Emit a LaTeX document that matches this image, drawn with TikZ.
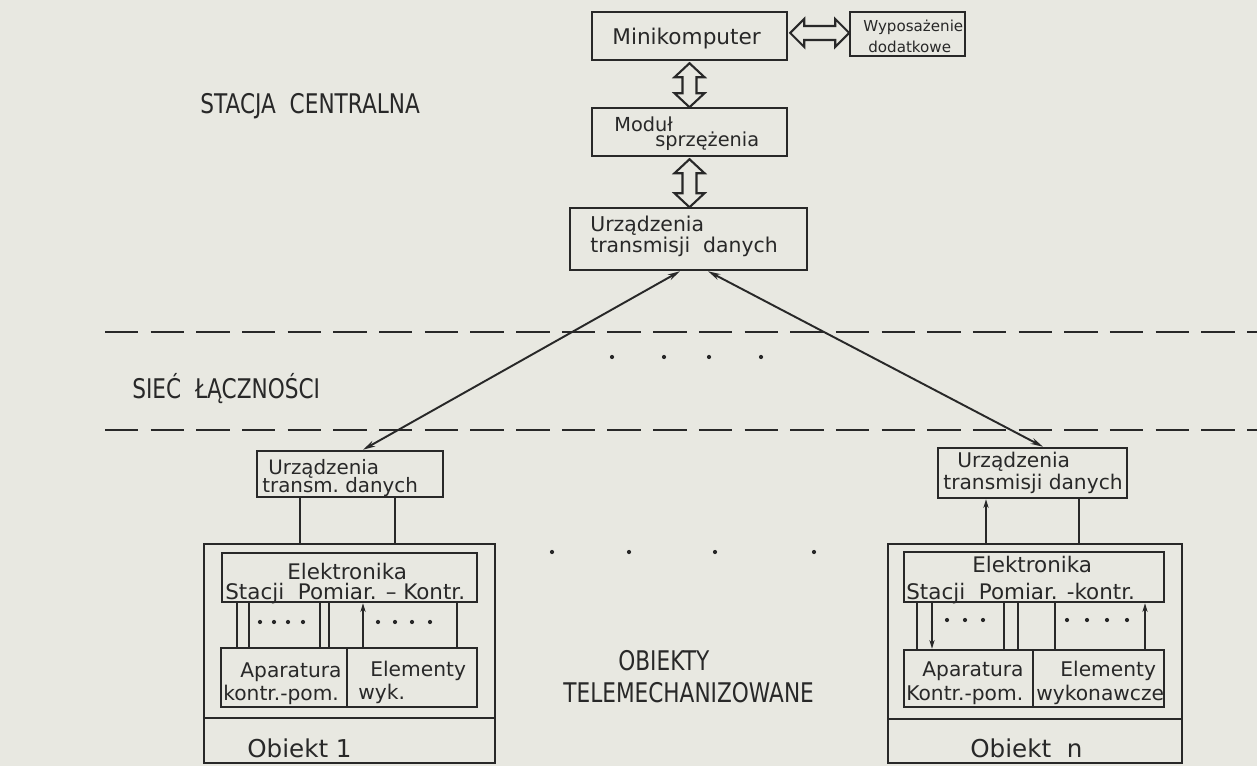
\documentclass[tikz,border=0pt]{standalone}
\usepackage{fontspec}
\setmainfont{DejaVu Sans}
\newfontfamily\capsfont{DejaVu Sans}[FakeStretch=0.8]
\usetikzlibrary{arrows.meta,fit,calc}
\definecolor{paper}{RGB}{232,232,225}
\definecolor{ink}{RGB}{40,40,40}
\newcommand\fsz[1]{\fontsize{#1}{#1}\selectfont}

\begin{document}
\begin{tikzpicture}[x=0.02cm,y=-0.02cm,
  box/.style={draw=ink,line width=1.4pt,inner sep=0pt},
  txt/.style={anchor=base west,inner sep=0pt,text=ink},
  captxt/.style={txt,font=\capsfont\fsz{15.4pt}},
  conn/.style={draw=ink,line width=1.1pt},
  biglink/.style={conn,{Stealth[length=7pt,width=3.5pt]}-{Stealth[length=7pt,width=3.5pt]}},
  hollow/.style={draw=ink,line width=1.2pt,fill=paper,line join=miter},
  dashline/.style={draw=ink,line width=1.3pt,dash pattern=on 19pt off 7pt},
  >={Stealth[length=5pt,width=3pt]}]

\fill[paper] (0,0) rectangle (1257,766);
\useasboundingbox (0,0) rectangle (1257,766);

% ---------- central station ----------
\node[box,fit={(592,12) (787,60)}] (mini) {};
\node[box,fit={(850,12) (965,56)}] (wyp) {};
\node[box,fit={(592,108) (787,156)}] (modul) {};
\node[box,fit={(570,208) (807,270)}] (udc) {};

\node[txt,font=\fsz{12.3pt}] (tmini) at (612,45) {Minikomputer};
\node[txt,font=\fsz{8.6pt}] (twyp1) at (863,32) {Wyposażenie};
\node[txt,font=\fsz{8.6pt}] (twyp2) at (868,53) {dodatkowe};
\node[txt,font=\fsz{11pt}] (tmod1) at (614,132) {Moduł};
\node[txt,font=\fsz{11pt}] (tmod2) at (655,147) {sprzężenia};
\node[txt,font=\fsz{11.6pt}] (tudc1) at (590,232) {Urządzenia};
\node[txt,font=\fsz{11.6pt}] (tudc2) at (590,253) {transmisji\ \ danych};

% hollow double arrows
\draw[hollow] ($(mini.south)+(0,2)$) -- ++(15,14) -- ++(-8,0) -- ++(0,16) -- ++(8,0)
  -- ++(-15,14) -- ++(-15,-14) -- ++(8,0) -- ++(0,-16) -- ++(-8,0) -- cycle;
\draw[hollow] ($(modul.south)+(0,2)$) -- ++(15,14) -- ++(-8,0) -- ++(0,20) -- ++(8,0)
  -- ++(-15,14) -- ++(-15,-14) -- ++(8,0) -- ++(0,-20) -- ++(-8,0) -- cycle;
\draw[hollow] ($(mini.east)+(2,-3)$) -- ++(14,-14) -- ++(0,7) -- ++(31,0) -- ++(0,-7)
  -- ++(14,14) -- ++(-14,14) -- ++(0,-7) -- ++(-31,0) -- ++(0,7) -- cycle;

\node[captxt] (tstac) at (200,114) {STACJA\ \ CENTRALNA};

% ---------- network ----------
\draw[dashline] (105,332) -- (1257,332);
\draw[dashline] (105,430) -- (1257,430);
\node[captxt] (tsiec) at (132,399) {SIEĆ\ \ ŁĄCZNOŚCI};
\foreach \x in {612,664,709,761} \fill[ink] (\x,357) circle[radius=1.2pt];

% ---------- object 1 ----------
\node[box,fit={(257,451) (443,497)}] (ul) {};
\node[box,fit={(204,544) (495,763)}] (objl) {};
\node[box,fit={(204,718) (495,763)}] (objlb) {};
\node[box,fit={(222,553) (477,602)}] (el) {};
\node[box,fit={(221,648) (347,707)}] (apl) {};
\node[box,fit={(347,648) (477,707)}] (eml) {};

\node[txt,font=\fsz{11.3pt}] (tul1) at (268,475) {Urządzenia};
\node[txt,font=\fsz{11.3pt}] (tul2) at (262,493) {transm.\ danych};
\node[txt,font=\fsz{12.2pt}] (tel1) at (287,579) {Elektronika};
\node[txt,font=\fsz{12.2pt}] (tel2) at (225,599) {Stacji\ \ Pomiar. – Kontr.};
\node[txt,font=\fsz{11.5pt}] (tapl1) at (240,677) {Aparatura};
\node[txt,font=\fsz{11.5pt}] (tapl2) at (223,700) {kontr.-pom.};
\node[txt,font=\fsz{11.5pt}] (teml1) at (370,676) {Elementy};
\node[txt,font=\fsz{11.5pt}] (teml2) at (358,699) {wyk.};
\node[txt,font=\fsz{14pt}] (tob1) at (247,757) {Obiekt 1};

% ---------- object n ----------
\node[box,fit={(938,448) (1127,498)}] (ur) {};
\node[box,fit={(888,544) (1182,763)}] (objr) {};
\node[box,fit={(888,719) (1182,763)}] (objrb) {};
\node[box,fit={(904,552) (1164,602)}] (er) {};
\node[box,fit={(904,650) (1033,707)}] (apr) {};
\node[box,fit={(1033,650) (1164,707)}] (emr) {};

\node[txt,font=\fsz{11.5pt}] (tur1) at (957,467) {Urządzenia};
\node[txt,font=\fsz{11.5pt}] (tur2) at (943,489) {transmisji danych};
\node[txt,font=\fsz{12.2pt}] (ter1) at (972,572) {Elektronika};
\node[txt,font=\fsz{12.2pt}] (ter2) at (906,599) {Stacji\ \ Pomiar. -kontr.};
\node[txt,font=\fsz{11.5pt}] (tapr1) at (922,676) {Aparatura};
\node[txt,font=\fsz{11.5pt}] (tapr2) at (906,700) {Kontr.-pom.};
\node[txt,font=\fsz{11.5pt}] (temr1) at (1060,676) {Elementy};
\node[txt,font=\fsz{11.5pt}] (temr2) at (1036,700) {wykonawcze};
\node[txt,font=\fsz{14pt}] (tobn) at (970,757) {Obiekt\ \ n};

% ---------- middle labels ----------
\foreach \x in {552,629,715,814} \fill[ink] (\x,552) circle[radius=1.2pt];
\node[captxt] (tob1l) at (618,670) {OBIEKTY};
\node[captxt] (tob2l) at (563,702) {TELEMECHANIZOWANE};

% ---------- connectors ----------
\draw[biglink] ($(udc.south)+(-8.5,0)$) -- ($(ul.north)+(13,0)$);
\draw[biglink] ($(udc.south)+(19.5,0)$) -- ($(ur.north)+(10.5,0)$);

% object 1
\coordinate (l1) at ($(ul.south)+(-50,0)$);
\coordinate (l2) at ($(ul.south)+(45,0)$);
\draw[conn] (l1) -- (l1 |- objl.north);
\draw[conn] (l2) -- (l2 |- objl.north);
\coordinate (i1) at ($(el.south)+(-112.5,0)$);
\coordinate (i2) at ($(el.south)+(-100.5,0)$);
\coordinate (i3) at ($(el.south)+(-29.5,0)$);
\coordinate (i4) at ($(el.south)+(-20.5,0)$);
\coordinate (i5) at ($(el.south)+(13.5,0)$);
\coordinate (i6) at ($(el.south)+(107.5,0)$);
\draw[conn] (i1) -- (i1 |- apl.north);
\draw[conn] (i2) -- (i2 |- apl.north);
\draw[conn] (i3) -- (i3 |- apl.north);
\draw[conn] (i4) -- (i4 |- apl.north);
\draw[conn,->] (i5 |- eml.north) -- (i5);
\draw[conn] (i6) -- (i6 |- eml.north);
\foreach \x in {260,274,288,303,378,395,412,430} \fill[ink] (\x,622) circle[radius=1.2pt];

% object n
\coordinate (r1) at ($(ur.south)+(-46.5,0)$);
\coordinate (r2) at ($(ur.south)+(46.5,0)$);
\draw[conn,->] (r1 |- objr.north) -- (r1);
\draw[conn] (r2) -- (r2 |- objr.north);
\coordinate (j1) at ($(er.south)+(-117,0)$);
\coordinate (j2) at ($(er.south)+(-102,0)$);
\coordinate (j3) at ($(er.south)+(-30,0)$);
\coordinate (j4) at ($(er.south)+(-16,0)$);
\coordinate (j5) at ($(er.south)+(21,0)$);
\coordinate (j6) at ($(er.south)+(111,0)$);
\draw[conn] (j1) -- (j1 |- apr.north);
\draw[conn,->] (j2) -- (j2 |- apr.north);
\draw[conn] (j3) -- (j3 |- apr.north);
\draw[conn] (j4) -- (j4 |- apr.north);
\draw[conn] (j5) -- (j5 |- emr.north);
\draw[conn,->] (j6 |- emr.north) -- (j6);
\foreach \x in {947,965,983,1067,1087,1107,1127} \fill[ink] (\x,620) circle[radius=1.2pt];

\end{tikzpicture}
\end{document}
